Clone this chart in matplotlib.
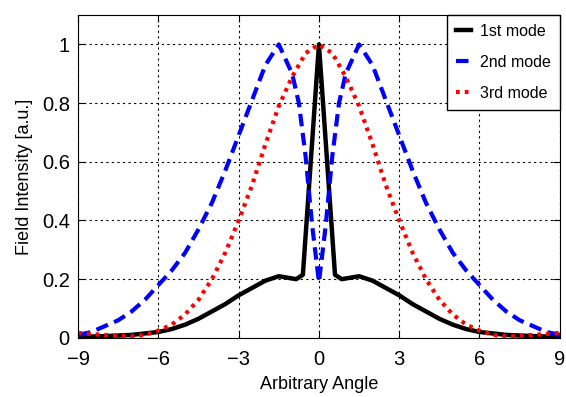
import numpy as np
import matplotlib
matplotlib.use('Agg')
import matplotlib.pyplot as plt

plt.rcParams['font.family'] = ['Liberation Sans', 'DejaVu Sans']

# 1st mode (sampled coarsely, narrow spike at 0)
x1 = [-9, -8, -7, -6, -5.5, -5, -4.5, -4, -3.5, -3, -2.5, -2, -1.5, -0.85, -0.6, 0,
      0.6, 0.85, 1.5, 2, 2.5, 3, 3.5, 4, 4.5, 5, 5.5, 6, 7, 8, 9]
y1 = [0.003, 0.006, 0.01, 0.02, 0.03, 0.045, 0.065, 0.09, 0.115, 0.145, 0.17, 0.195, 0.21, 0.20, 0.215, 1.0,
      0.215, 0.20, 0.21, 0.195, 0.17, 0.145, 0.115, 0.09, 0.065, 0.045, 0.03, 0.02, 0.01, 0.006, 0.003]

# 2nd mode
x2 = [-9, -8.5, -8, -7.5, -7, -6.5, -6, -5.5, -5, -4.5, -4, -3.5, -3, -2.5, -2, -1.5, -1, -0.75, -0.5, -0.25, 0,
      0.25, 0.5, 0.75, 1, 1.5, 2, 2.5, 3, 3.5, 4, 4.5, 5, 5.5, 6, 6.5, 7, 7.5, 8, 8.5, 9]
y2 = [0.01, 0.02, 0.04, 0.06, 0.09, 0.13, 0.18, 0.23, 0.29, 0.37, 0.46, 0.57, 0.69, 0.81, 0.93, 1.0, 0.9, 0.8, 0.62, 0.38, 0.19,
      0.38, 0.62, 0.8, 0.9, 1.0, 0.93, 0.81, 0.69, 0.57, 0.46, 0.37, 0.29, 0.23, 0.18, 0.13, 0.09, 0.06, 0.04, 0.02, 0.01]

# 3rd mode
x3 = [-9, -8.5, -8, -7.5, -7, -6.5, -6, -5.5, -5, -4.5, -4, -3.5, -3, -2.5, -2, -1.5, -1, -0.5, 0,
      0.5, 1, 1.5, 2, 2.5, 3, 3.5, 4, 4.5, 5, 5.5, 6, 6.5, 7, 7.5, 8, 8.5, 9]
y3 = [0.017, 0.013, 0.01, 0.007, 0.005, 0.01, 0.025, 0.045, 0.08, 0.13, 0.2, 0.29, 0.4, 0.52, 0.66, 0.79, 0.89, 0.97, 1.0,
      0.97, 0.89, 0.79, 0.66, 0.52, 0.4, 0.29, 0.2, 0.13, 0.08, 0.045, 0.025, 0.01, 0.005, 0.007, 0.01, 0.013, 0.017]

fig = plt.figure(figsize=(5.66, 3.97), dpi=100)
ax = fig.add_axes([0.138, 0.149, 0.851, 0.813])

ax.plot(x1, y1, color='black', lw=3.2, label='1st mode')
ax.plot(x2, y2, color='blue', lw=3, ls=(0, (3, 1.6)), label='2nd mode')
ax.plot(x3, y3, color='red', lw=3, ls=(0, (0.9, 1.2)), label='3rd mode')

ax.set_xlim(-9, 9)
ax.set_ylim(0, 1.1)
ax.set_xticks([-9, -6, -3, 0, 3, 6, 9])
ax.set_xticklabels(['\u22129', '\u22126', '\u22123', '0', '3', '6', '9'])
ax.set_yticks([0, 0.2, 0.4, 0.6, 0.8, 1])
ax.set_yticklabels(['0', '0.2', '0.4', '0.6', '0.8', '1'])
ax.tick_params(direction='in', labelsize=14.5, length=5, top=True, right=True)
ax.tick_params(axis='x', pad=9)
ax.tick_params(axis='y', pad=6)
ax.grid(True, color='black', ls=(0, (2, 3)), lw=0.8)

ax.set_xlabel('Arbitrary Angle', fontsize=13, labelpad=5)
ax.set_ylabel('Field Intensity [a.u.]', fontsize=13, labelpad=6)
ax.legend(loc='upper right', fontsize=11.5, fancybox=False, edgecolor='black',
          framealpha=1, borderaxespad=0, handlelength=0.9, handletextpad=0.6,
          labelspacing=1.0, borderpad=0.55)

fig.savefig('out.png', dpi=100)
